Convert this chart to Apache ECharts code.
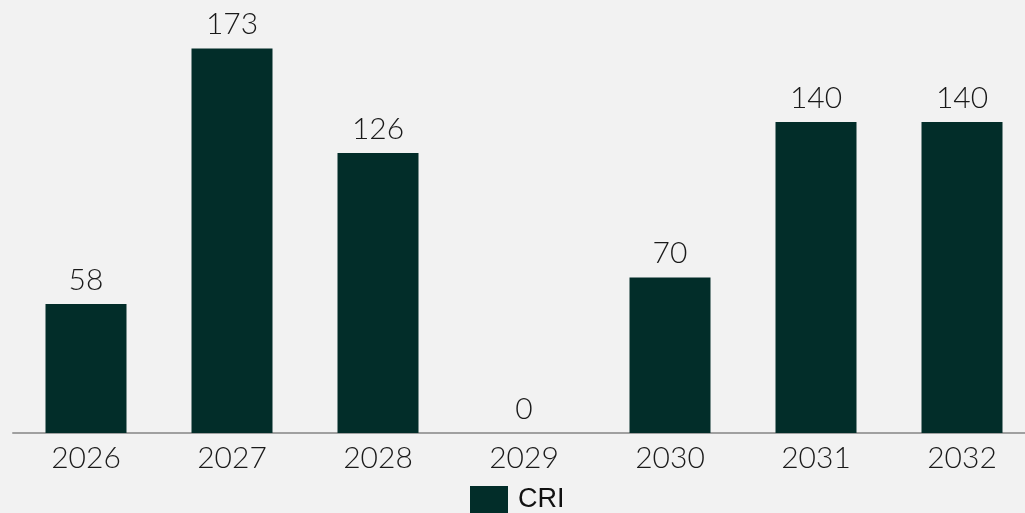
<!DOCTYPE html>
<html>
<head>
<meta charset="utf-8">
<script src="https://cdn.jsdelivr.net/npm/echarts@6/dist/echarts.min.js"></script>
<style>
  html, body { margin: 0; padding: 0; background: #f2f2f2; }
  #chart { width: 1025px; height: 513px; }
</style>
</head>
<body>
<div id="chart"></div>
<script>
// Yearly CRI totals
const years = ['2026', '2027', '2028', '2029', '2030', '2031', '2032'];
const criValues = [58, 173, 126, 0, 70, 140, 140];
const seriesName = 'CRI';

const chart = echarts.init(document.getElementById('chart'));
chart.setOption({
  backgroundColor: '#f2f2f2',
  animation: false,
  grid: { left: 13, width: 1022, top: 33, bottom: 80, containLabel: false, outerBoundsMode: 'none' },
  legend: {
    data: [seriesName],
    top: 486,
    left: 470,
    padding: 0,
    itemWidth: 38,
    itemHeight: 28,
    itemGap: 10,
    textStyle: { fontFamily: 'Liberation Sans', fontSize: 27, color: '#111', padding: [0, 0, 0, 5] },
    icon: 'rect'
  },
  xAxis: {
    type: 'category',
    data: years,
    axisLine: { lineStyle: { color: '#a0a0a0', width: 2 } },
    axisTick: { show: false },
    axisLabel: { fontFamily: 'Lato', fontWeight: 300, fontSize: 30, color: '#1a1a1a', margin: 10 }
  },
  yAxis: {
    type: 'value',
    min: 0,
    max: 180,
    show: false,
    splitLine: { show: false }
  },
  series: [{
    name: seriesName,
    type: 'bar',
    data: criValues,
    barWidth: 81,
    itemStyle: { color: '#022d29' },
    label: {
      show: true,
      position: 'top',
      distance: 9,
      fontFamily: 'Lato',
      fontWeight: 300,
      fontSize: 30,
      color: '#1a1a1a'
    }
  }]
});
</script>
</body>
</html>
